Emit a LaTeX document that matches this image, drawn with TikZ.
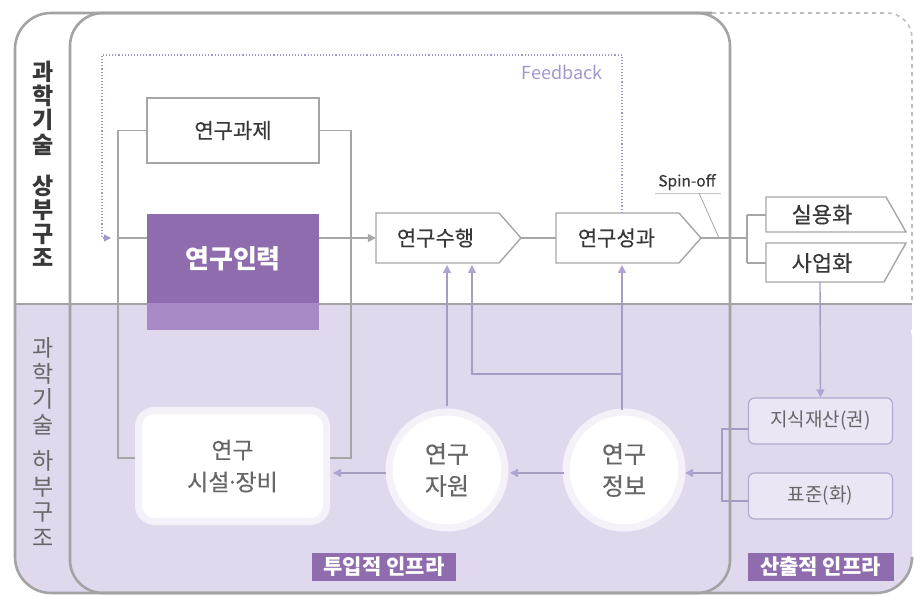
\documentclass[tikz,border=0pt]{standalone}
\usepackage{fontspec}
\setmainfont{Noto Sans CJK KR}
\newfontfamily\krm[FakeBold=0.3]{Noto Sans CJK KR}
\usetikzlibrary{arrows.meta,calc}
\definecolor{frameg}{HTML}{A3A3A3}
\definecolor{lineg}{HTML}{A6A6A6}
\definecolor{lav}{HTML}{E0D9EE}
\definecolor{lavline}{HTML}{A89CC2}
\definecolor{lavtip}{HTML}{B2A4D2}
\definecolor{purpD}{HTML}{8E6CAE}
\definecolor{purpL}{HTML}{A88BC6}
\definecolor{txt}{HTML}{383838}
\definecolor{txtg}{HTML}{666666}
\definecolor{fb}{HTML}{A396CC}
\definecolor{glow}{HTML}{F4F1F9}
\definecolor{opbox}{HTML}{ECE6F4}
\definecolor{opline}{HTML}{B6A7CF}
\tikzset{
  frame/.style={draw=frameg, line width=2.6pt},
  boxw/.style={draw=lineg, line width=1.4pt, fill=white, font=\krm\fontsize{21}{24}\selectfont, text=txt},
  sigbox/.style={minimum width=145, minimum height=50, inner sep=0pt, font=\krm\fontsize{21}{24}\selectfont, text=txt},
  conn/.style={draw=lineg, line width=1.4pt},
  lconn/.style={draw=lavline, line width=1.4pt},
  gtip/.style={-{Triangle[length=8pt,width=8pt]}},
  ltip/.style={-{Triangle[length=8pt,width=8pt,color=lavtip]}},
  circ/.style={circle, fill=white, draw=glow, line width=7pt, minimum size=116, font=\krm\fontsize{24}{32}\selectfont, text=txtg, align=center, inner sep=0pt},
  opb/.style={draw=opline, line width=1.2pt, fill=opbox, rounded corners=6, minimum width=144, minimum height=46, font=\fontsize{19}{22}\selectfont, text=txtg, inner sep=0pt},
  tag/.style={fill=purpD, text=white, font=\bfseries\fontsize{21}{24}\selectfont, minimum height=28, inner sep=0pt},
  vlab/.style={align=center}
}
\begin{document}
\begin{tikzpicture}[x=1pt,y=-1pt]
\useasboundingbox (0,0) rectangle (914,596);
% lavender lower region
\fill[lav, rounded corners=35] (15,305) -- (15,593) -- (912,593) -- (912,305) -- cycle;
\fill[lav] (15,305) rectangle (912,330);
% frames
\draw[frame, rounded corners=33] (70,13) rectangle (730,593);
\draw[frame, rounded corners=36] (712,13) -- (15,13) -- (15,593) -- (912,593) -- (912,560);
\draw[frame] (15,304) -- (912,304);
\draw[draw=frameg!70, line width=1.6pt, dash pattern=on 4pt off 4pt, rounded corners=25] (712,13) -- (912,13) -- (912,300);
% left labels
\node[vlab, text=txt, font=\bfseries\fontsize{23}{24.2}\selectfont] (lab1) at (43,164) {과\\학\\기\\술\\[17pt]상\\부\\구\\조};
\node[vlab, text=txtg, font=\fontsize{23}{25.5}\selectfont] (lab2) at (43,442) {과\\학\\기\\술\\[11pt]하\\부\\구\\조};
% upper nodes
\node[boxw, minimum width=172, minimum height=65, inner sep=0pt] (task) at (233,130.5) {연구과제};
\fill[purpL] (147,300) rectangle (319,330);
\node[fill=purpD, minimum width=172, minimum height=89, inner sep=0pt, text=white, font=\bfseries\fontsize{26}{29}\selectfont] (staff) at (233,259) {연구인력};
\draw[boxw] (376,213) -- (499,213) -- (521,238) -- (499,263) -- (376,263) -- cycle;
\node[sigbox] (perf) at (448.5,238) {\hspace*{-26pt}연구수행};
\draw[boxw] (556,213) -- (679,213) -- (701,238) -- (679,263) -- (556,263) -- cycle;
\node[sigbox] (res) at (628.5,238) {\hspace*{-24pt}연구성과};
% commercialization shapes
\draw[boxw] (766,197) -- (886,197) -- (906,232) -- (766,232) -- cycle;
\draw[boxw] (766,243) -- (906,243) -- (884,282) -- (766,282) -- cycle;
\node[font=\krm\fontsize{22}{25}\selectfont, text=txt, minimum width=120, minimum height=35, inner sep=0pt] (prac) at (822,214.5) {실용화};
\node[font=\krm\fontsize{22}{25}\selectfont, text=txt, minimum width=118, minimum height=39, inner sep=0pt] (biz) at (822,263) {사업화};
% lower nodes
\node[fill=white, draw=glow, line width=7pt, rounded corners=16, minimum width=188, minimum height=111, font=\krm\fontsize{23}{32}\selectfont, text=txtg, align=center, inner sep=0pt] (fac) at (232.5,466) {연구\\시설\kern-3.5pt·\kern-3.5pt장비};
\node[circ] (rsrc) at (447,470) {연구\\자원};
\node[circ] (info) at (624,470) {연구\\정보};
\node[opb] (ip) at (820.5,421) {지식재산(권)};
\node[opb] (std) at (820.5,496) {표준(화)};
\node[tag, minimum width=144] (tin) at (384,567) {투입적 인프라};
\node[tag, minimum width=146] (tout) at (820.5,567) {산출적 인프라};
% feedback
\coordinate (fbR) at (622,55);
\coordinate (fbL) at (102,55);
\coordinate (fbE) at (111,238);
\draw[draw=fb, line width=1.1pt, dotted] (res.north -| fbR) -- (fbR) -- (fbL) -- (fbL |- fbE);
\draw[draw=fb, line width=1.1pt, -{Triangle[length=7pt,width=7pt]}] (103,238) -- (fbE);
\node[text=fb, font=\fontsize{18}{20}\selectfont] (fbt) at (562,72) {Feedback};
% brackets around task / staff
\coordinate (bl1) at (118,130.5);
\coordinate (bl2) at (118,458);
\coordinate (br1) at (351,130.5);
\coordinate (br2) at (351,458);
\draw[conn] (task.west) -- (bl1) -- (bl2) -- (fac.west |- bl2);
\draw[conn] (task.east) -- (br1) -- (br2) -- (fac.east |- br2);
\draw[conn] (bl1 |- perf.west) -- (staff.west |- perf.west);
\draw[conn, gtip] (staff.east |- perf.west) -- (perf.west);
\draw[conn] (perf.east) -- (res.west);
% to commercialization
\coordinate (sp) at (747,238);
\coordinate (spT) at (747,215);
\coordinate (spB) at (747,263);
\draw[conn] (res.east) -- (sp);
\draw[conn] (spT) -- (spB);
\draw[conn] (spT) -- (766,215);
\draw[conn] (spB) -- (766,263);
% spin-off
\node[text=txt, font=\krm\fontsize{15.5}{17}\selectfont, inner sep=1pt] (spin) at (687,182) {Spin-off};
\draw[draw=lineg!70, line width=0.8pt] (655,193) -- (721,193);
\draw[draw=lineg, line width=0.8pt] (699,193) -- (719,238);
% lower connections
\draw[lconn, ltip] (820,282) -- (ip.north);
\coordinate (ob1) at (722,429);
\coordinate (ob2) at (722,501);
\draw[lconn] (ip.west |- ob1) -- (ob1) -- (ob2) -- (std.west |- ob2);
\draw[lconn, ltip] (722,473) -- (685,473);
\draw[lconn, ltip] (564,473) -- (510,473);
\draw[lconn, ltip] (386,473) -- (333,473);
\draw[lconn, ltip] (447,406) -- (447,265);
\draw[lconn, ltip] (622,410) -- (622,265);
\draw[lconn, ltip] (622,374) -- (472,374) -- (472,265);
\end{tikzpicture}
\end{document}
